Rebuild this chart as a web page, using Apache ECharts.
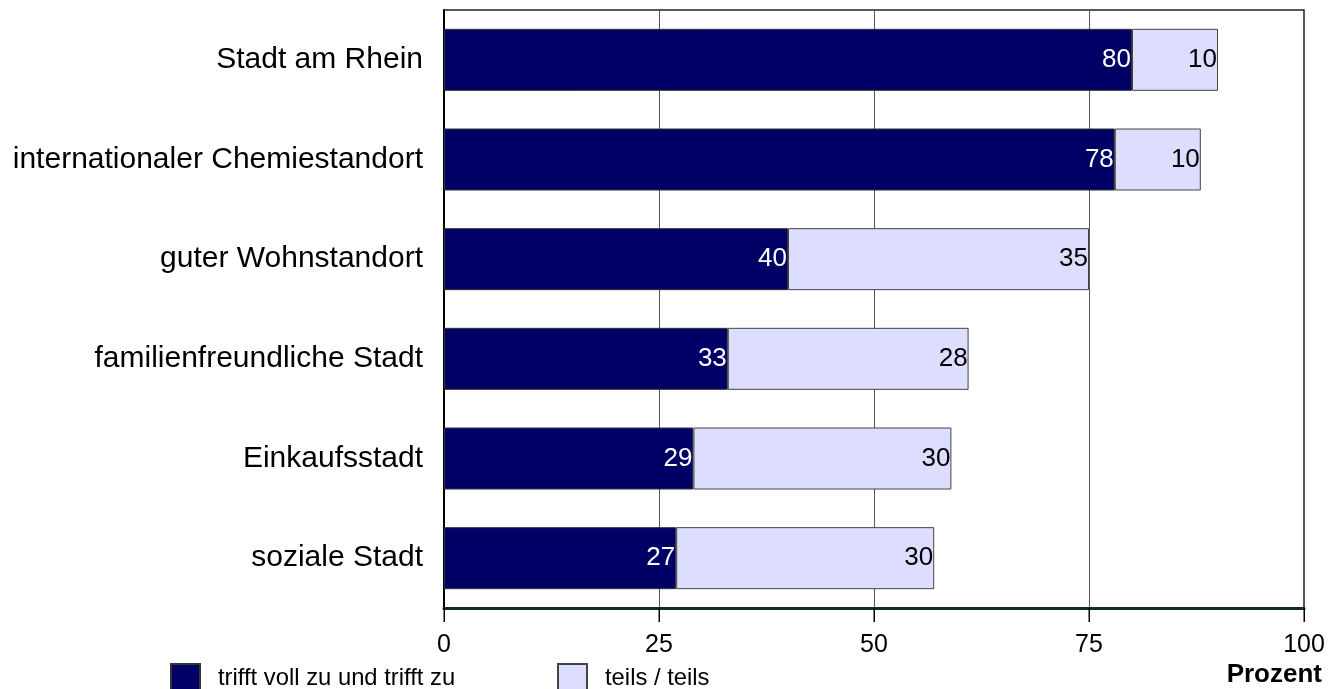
<!DOCTYPE html>
<html>
<head>
<meta charset="utf-8">
<script src="https://cdn.jsdelivr.net/npm/echarts@6/dist/echarts.min.js"></script>
<style>
  html, body { margin: 0; padding: 0; background: #fff; }
  #chart { width: 1333px; height: 689px; }
</style>
</head>
<body>
<div id="chart"></div>
<script>
const categories = ['Stadt am Rhein', 'internationaler Chemiestandort', 'guter Wohnstandort',
  'familienfreundliche Stadt', 'Einkaufsstadt', 'soziale Stadt']
const trifftZu = [80, 78, 40, 33, 29, 27]
const teilsTeils = [10, 10, 35, 28, 30, 30]
const xTicks = [0, 25, 50, 75, 100]

const fontFamily = '"Liberation Sans", Arial, sans-serif'
const navy = '#000066'
const lilac = '#DDDDFF'

var myChart = echarts.init(document.getElementById('chart'))

function legendItem(name, left) {
  return {
    data: [name],
    left: left,
    top: 658,
    itemWidth: 29,
    itemHeight: 29,
    icon: 'rect',
    textStyle: { fontFamily: fontFamily, fontSize: 23.8, color: '#000', padding: [0, 0, 0, 13] }
  }
}

// tick marks under the x axis line, placed through the x scale
function renderTick(params, api) {
  var p = api.coord([api.value(0), 0])
  var bottom = params.coordSys.y + params.coordSys.height
  return {
    type: 'line',
    shape: { x1: p[0], y1: bottom, x2: p[0], y2: bottom + 14 },
    style: { stroke: '#000', lineWidth: 1 }
  }
}

const option = {
  animation: false,
  grid: {
    left: 444,
    right: 29,
    top: 10,
    bottom: 81,
    show: true,
    borderColor: '#222',
    borderWidth: 1.5
  },
  legend: [
    legendItem('trifft voll zu und trifft zu', 165),
    legendItem('teils / teils', 552)
  ],
  graphic: [
    {
      type: 'text',
      right: 11,
      top: 662,
      style: {
        text: 'Prozent',
        fontFamily: fontFamily,
        fontSize: 26,
        fontWeight: 'bold',
        fill: '#000'
      }
    }
  ],
  xAxis: {
    type: 'value',
    min: 0,
    max: 100,
    interval: 25,
    axisLine: { show: true, lineStyle: { color: '#0d2e2e', width: 3 } },
    axisTick: { show: true, length: 14, lineStyle: { color: '#000', width: 1 } },
    axisLabel: {
      fontFamily: fontFamily,
      fontSize: 25,
      color: '#000',
      margin: 25,
      formatter: (v) => xTicks.includes(v) ? String(v) : ''
    },
    splitLine: { show: true, lineStyle: { color: '#555', width: 1 } }
  },
  yAxis: {
    type: 'category',
    data: categories,
    inverse: true,
    axisLine: { show: true, lineStyle: { color: '#000', width: 2 } },
    axisTick: { show: false },
    axisLabel: {
      fontFamily: fontFamily,
      fontSize: 30,
      color: '#000',
      margin: 21
    }
  },
  series: [
    {
      name: 'trifft voll zu und trifft zu',
      type: 'bar',
      stack: 'total',
      barWidth: 62,
      data: trifftZu,
      itemStyle: { color: navy, borderColor: '#333', borderWidth: 1 },
      label: {
        show: true,
        position: 'insideRight',
        distance: 1,
        color: '#fff',
        fontFamily: fontFamily,
        fontSize: 26
      }
    },
    {
      name: 'teils / teils',
      type: 'bar',
      stack: 'total',
      barWidth: 62,
      data: teilsTeils,
      itemStyle: { color: lilac, borderColor: '#444', borderWidth: 1 },
      label: {
        show: true,
        position: 'insideRight',
        distance: 1,
        color: '#000',
        fontFamily: fontFamily,
        fontSize: 26
      }
    },
    {
      type: 'custom',
      name: 'ticks',
      clip: false,
      silent: true,
      renderItem: renderTick,
      data: xTicks.map(v => [v]),
      encode: { x: 0 },
      z: 1
    }
  ]
}

myChart.setOption(option)
</script>
</body>
</html>
